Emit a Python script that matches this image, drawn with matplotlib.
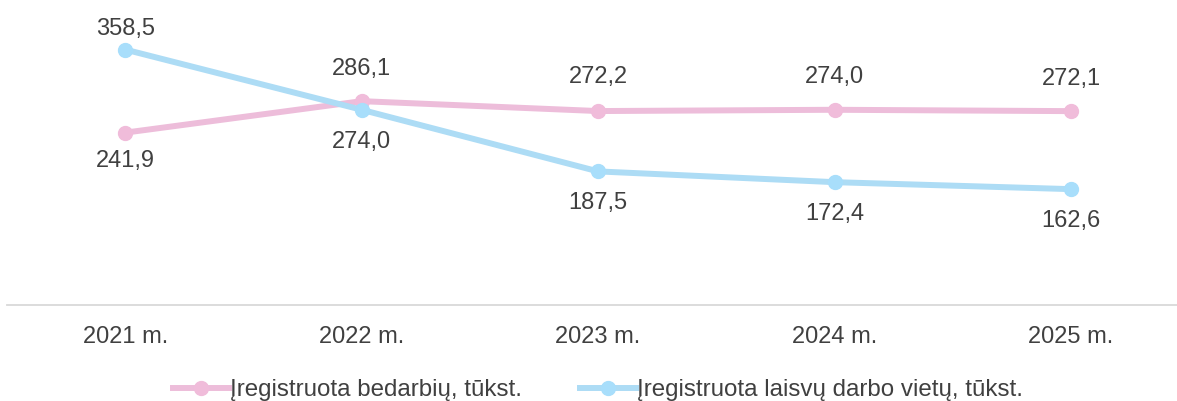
import matplotlib.pyplot as plt

plt.rcParams['font.family'] = ['Liberation Sans', 'DejaVu Sans']

years = ['2021 m.', '2022 m.', '2023 m.', '2024 m.', '2025 m.']
unemployed = [241.9, 286.1, 272.2, 274.0, 272.1]
vacancies = [358.5, 274.0, 187.5, 172.4, 162.6]
unemployed_label = 'Įregistruota bedarbių, tūkst.'
vacancies_label = 'Įregistruota laisvų darbo vietų, tūkst.'

# label offsets in pixels: positive above the point, negative below
unemployed_off = [-28, 32, 34, 33, 32]
vacancies_off = [21, -32, -32, -32, -32]

PINK = '#EDBDDA'
PINK_M = '#F0BCDA'
BLUE = '#ADDCF5'
BLUE_M = '#A8DEFB'
TEXT = '#404040'
FS = 17

fig = plt.figure(figsize=(11.77, 4.01), dpi=100)
ax = fig.add_axes([7 / 1177, 96 / 401, 1 - 7 / 1177, 285 / 401])

x = list(range(len(years)))
ax.plot(x, unemployed, color=PINK, lw=4.3, marker='o', ms=10,
        mfc=PINK_M, mec=PINK_M, label=unemployed_label, zorder=3)
ax.plot(x, vacancies, color=BLUE, lw=4.3, marker='o', ms=10,
        mfc=BLUE_M, mec=BLUE_M, label=vacancies_label, zorder=3)

for vals, offs in ((unemployed, unemployed_off), (vacancies, vacancies_off)):
    for i, (v, o) in enumerate(zip(vals, offs)):
        ax.annotate(f'{v:.1f}'.replace('.', ','), (i, v), xytext=(0, o),
                    textcoords='offset pixels', ha='center', va='center',
                    fontsize=FS, color=TEXT)

ax.set_xlim(-0.5, (1177 - 125) / 236.5)
ax.set_ylim(0, 400)
ax.set_yticks([])
ax.set_xticks(x)
ax.set_xticklabels(years, fontsize=FS, color=TEXT)
ax.tick_params(axis='x', length=0, pad=15)
for s in ('top', 'right', 'left'):
    ax.spines[s].set_visible(False)
ax.spines['bottom'].set_color('#D9D9D9')
ax.spines['bottom'].set_linewidth(1.3)

fig.legend(loc='center', bbox_to_anchor=(598 / 1177, 1 - 390 / 401), ncol=2,
           frameon=False, fontsize=17.4, handlelength=2.3, handletextpad=0.05,
           columnspacing=2.4, labelcolor=TEXT)

fig.savefig('out.png', dpi=100)
